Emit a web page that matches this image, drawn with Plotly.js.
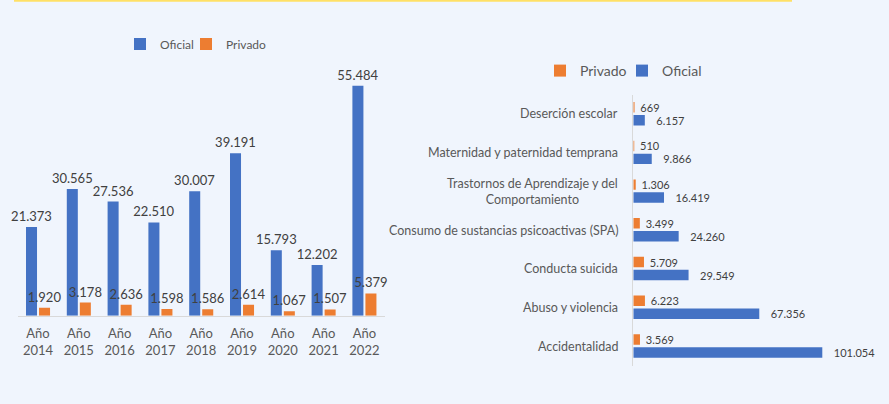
<!DOCTYPE html>
<html>
<head>
<meta charset="utf-8">
<script src="https://cdn.plot.ly/plotly-3.0.1.min.js"></script>
<style>
html,body{margin:0;padding:0;background:#f0f5fd;}
#chart{width:889px;height:404px;}
</style>
</head>
<body>
<div id="chart"></div>
<script>
// ---- Data ----
const years = ['Año<br>2014','Año<br>2015','Año<br>2016','Año<br>2017','Año<br>2018','Año<br>2019','Año<br>2020','Año<br>2021','Año<br>2022'];
const oficialAnual = [21373, 30565, 27536, 22510, 30007, 39191, 15793, 12202, 55484];
const privadoAnual = [1920, 3178, 2636, 1598, 1586, 2614, 1067, 1507, 5379];

const causas = ['Deserción escolar', 'Maternidad y paternidad temprana', 'Trastornos de Aprendizaje y del<br>Comportamiento', 'Consumo de sustancias psicoactivas (SPA)', 'Conducta suicida', 'Abuso y violencia', 'Accidentalidad'];
const privadoCausa = [669, 510, 1306, 3499, 5709, 6223, 3569];
const oficialCausa = [6157, 9866, 16419, 24260, 29549, 67356, 101054];

const seriesNames = {oficial: 'Oficial', privado: 'Privado'};
const colors = {oficial: '#4472c4', privado: '#ed7d31'};

const W = 889, H = 404;
const px = v => v / W;
const py = v => (H - v) / H;
const FONT = 'Lato, "Liberation Sans", sans-serif';

const traces = [
  {type:'bar', x: years, y: oficialAnual, name: seriesNames.oficial, marker:{color: colors.oficial},
   xaxis:'x', yaxis:'y', width:0.27, offset:-0.294, legend:'legend', legendwidth:21,
   texttemplate:'%{y:,}', textposition:'outside', cliponaxis:false, constraintext:'none',
   textfont:{size:13, color:'#404040', family:FONT}, hoverinfo:'skip'},
  {type:'bar', x: years, y: privadoAnual, name: seriesNames.privado, marker:{color: colors.privado},
   xaxis:'x', yaxis:'y', width:0.27, offset:0.025, legend:'legend', legendwidth:60,
   texttemplate:'%{y:,}', textposition:'outside', cliponaxis:false, constraintext:'none',
   textfont:{size:13, color:'#404040', family:FONT}, hoverinfo:'skip'},
  {type:'bar', orientation:'h', y: causas, x: privadoCausa, name: seriesNames.privado, marker:{color: colors.privado},
   xaxis:'x2', yaxis:'y2', width:0.27, offset:-0.307, legend:'legend2', legendwidth:37,
   texttemplate:'\u00a0%{x:,}', textposition:'outside', cliponaxis:false, constraintext:'none',
   textfont:{size:11, color:'#404040', family:FONT}, hoverinfo:'skip'},
  {type:'bar', orientation:'h', y: causas, x: oficialCausa, name: seriesNames.oficial, marker:{color: colors.oficial},
   xaxis:'x2', yaxis:'y2', width:0.27, offset:0.028, legend:'legend2', legendwidth:60,
   texttemplate:'\u00a0\u00a0\u00a0%{x:,}', textposition:'outside', cliponaxis:false, constraintext:'none',
   textfont:{size:11, color:'#404040', family:FONT}, hoverinfo:'skip'}
];

const annotations = causas.map(c => ({
  xref:'paper', yref:'y2', x: px(620), y: c, xanchor:'right', yanchor:'middle',
  text: c, align:'center', showarrow:false,
  font:{size:12.5, color:'#595959', family:FONT}
}));

const layout = {
  width: W, height: H,
  margin:{l:0, r:0, t:0, b:0},
  paper_bgcolor:'#f0f5fd', plot_bgcolor:'rgba(0,0,0,0)',
  separators:',.',
  font:{family:FONT, color:'#595959'},
  barmode:'group',
  showlegend:true,
  xaxis:{domain:[px(17.6), px(384.8)], type:'category', showline:true, linecolor:'#d9d9d9', linewidth:1,
         ticks:'', ticklabelstandoff:6, tickfont:{size:13, color:'#595959'}, showgrid:false, zeroline:false, fixedrange:true},
  yaxis:{domain:[py(315.7), py(58.7)], range:[0, 62000], visible:false, showgrid:false, zeroline:false},
  xaxis2:{domain:[px(633.3), px(633.3 + 125000*189/101054)], range:[0,125000], anchor:'y2', visible:false, showgrid:false, zeroline:false},
  yaxis2:{domain:[py(365.5), py(94.5)], anchor:'x2', type:'category', autorange:'reversed', showticklabels:false,
          showline:true, linecolor:'#d9d9d9', linewidth:1, ticks:'', showgrid:false, zeroline:false},
  legend:{orientation:'h', x:px(120), y:py(44), xanchor:'left', yanchor:'middle', bgcolor:'rgba(0,0,0,0)',
          font:{size:12, color:'#595959', family:FONT}},
  legend2:{orientation:'h', x:px(540), y:py(71), xanchor:'left', yanchor:'middle', bgcolor:'rgba(0,0,0,0)',
          font:{size:14, color:'#595959', family:FONT}},
  annotations: annotations,
  shapes:[{type:'line', xref:'paper', yref:'paper', x0:px(14), x1:px(792), y0:py(0.8), y1:py(0.8),
           line:{color:'#ffe066', width:2}}]
};

Plotly.newPlot('chart', traces, layout, {displayModeBar:false, staticPlot:true});
</script>
</body>
</html>
